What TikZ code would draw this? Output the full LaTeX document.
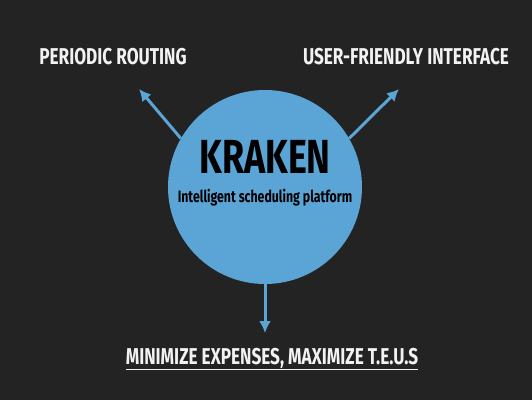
\documentclass[tikz,border=0pt]{standalone}
\usepackage{fontspec}
\usetikzlibrary{arrows.meta}
\newfontfamily\dinfont[FakeStretch=0.75]{Fira Sans}
\definecolor{slidebg}{HTML}{232323}
\definecolor{krakenblue}{HTML}{5BA4D6}
\definecolor{labelwhite}{HTML}{F2F2F2}
\tikzset{
  goal/.style={text=labelwhite, font=\dinfont\bfseries\fontsize{23}{25}\selectfont, inner sep=0pt},
  goalarrow/.style={->, draw=krakenblue, line width=3bp},
}
\begin{document}
\begin{tikzpicture}[x=1bp, y=-1bp, >={Latex[length=12bp,width=12bp]}]
\fill[slidebg] (0,0) rectangle (532,400);

% the platform
\node[circle, fill=krakenblue, minimum size=194bp, inner sep=0pt] (kraken) at (265,187) {};
\node[font=\dinfont\bfseries\fontsize{48}{50}\selectfont, text=black, inner sep=0pt] (title) at (265,157) {KRAKEN};
\node[font=\dinfont\bfseries\fontsize{16.5}{18}\selectfont, text=black, inner sep=0pt] (subtitle) at (265,198) {Intelligent scheduling platform};

% what it gives
\node[goal] (routing) at (113,57) {PERIODIC ROUTING};
\node[goal] (interface) at (406,57) {USER-FRIENDLY INTERFACE};
\node[goal] (expenses) at (272,359) {\underline{MINIMIZE EXPENSES, MAXIMIZE T.E.U.S}};

\coordinate (tipL) at (139,89);
\coordinate (tipR) at (399,89);
\coordinate (tipB) at (265,333);

\draw[goalarrow] (kraken.150) -- (tipL);
\draw[goalarrow] (kraken.30) -- (tipR);
\draw[goalarrow] (kraken.south) -- (tipB);
\end{tikzpicture}
\end{document}
